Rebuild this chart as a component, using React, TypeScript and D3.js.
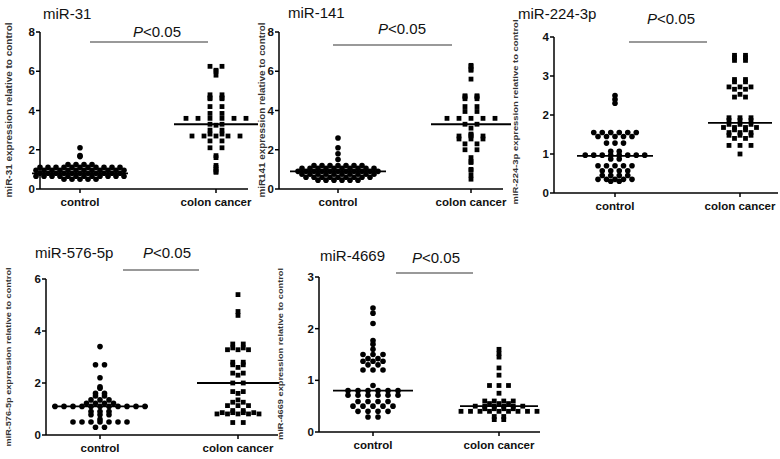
import * as d3 from "d3";

// values (relative expression)
const categories = ["control", "colon cancer"];

const mir31Control = [2.1, 1.7, 1.65, 1.25, 1.25, 1.25, 1.25, 1.1, 1.1, 1.1, 1.1, 1.1, 1.1, 1.1, 1.1, 1.1, 1.1, 1.1, 0.95, 0.95, 0.95, 0.95, 0.95, 0.95, 0.95, 0.95, 0.95, 0.95, 0.95, 0.95, 0.8, 0.8, 0.8, 0.8, 0.8, 0.8, 0.8, 0.8, 0.8, 0.8, 0.8, 0.65, 0.65, 0.65, 0.65, 0.65, 0.65, 0.65, 0.65, 0.65, 0.65, 0.65, 0.65, 0.5, 0.5, 0.5, 0.5, 0.5];
const mir31Cancer = [6.25, 6.25, 6.05, 6.0, 5.8, 4.8, 4.8, 4.65, 4.65, 4.6, 4.6, 4.2, 4.2, 3.85, 3.85, 3.6, 3.6, 3.6, 3.6, 3.6, 3.6, 3.3, 3.3, 3.25, 3.0, 3.0, 2.8, 2.8, 2.7, 2.7, 2.7, 2.7, 2.7, 2.45, 2.45, 2.1, 2.1, 1.7, 1.6, 1.2, 1.1, 1.0, 0.9, 0.85];

const mir141Control = [2.6, 2.1, 1.8, 1.5, 1.2, 1.2, 1.2, 1.2, 1.2, 1.2, 1.2, 1.05, 1.05, 1.05, 1.05, 1.05, 1.05, 1.05, 1.05, 1.05, 1.05, 0.9, 0.9, 0.9, 0.9, 0.9, 0.9, 0.9, 0.9, 0.9, 0.9, 0.9, 0.75, 0.75, 0.75, 0.75, 0.75, 0.75, 0.75, 0.75, 0.75, 0.75, 0.6, 0.6, 0.6, 0.6, 0.6, 0.6, 0.6, 0.6, 0.6, 0.45, 0.45, 0.45, 0.45, 0.45, 0.45];
const mir141Cancer = [6.3, 6.25, 6.1, 6.05, 5.6, 4.75, 4.75, 4.7, 4.7, 4.6, 4.6, 4.2, 4.2, 3.95, 3.95, 3.6, 3.6, 3.6, 3.6, 3.6, 3.3, 3.3, 3.1, 2.8, 2.75, 2.7, 2.7, 2.7, 2.55, 2.55, 2.55, 2.3, 2.3, 2.0, 2.0, 1.6, 1.4, 1.35, 1.0, 0.95, 0.7, 0.5];

const mir224Control = [2.5, 2.4, 2.3, 1.55, 1.55, 1.55, 1.55, 1.55, 1.55, 1.45, 1.45, 1.45, 1.45, 1.45, 1.28, 1.28, 1.28, 1.07, 1.07, 0.97, 0.97, 0.97, 0.97, 0.97, 0.97, 0.97, 0.97, 0.87, 0.87, 0.7, 0.7, 0.7, 0.7, 0.7, 0.57, 0.57, 0.57, 0.57, 0.45, 0.45, 0.45, 0.45, 0.35, 0.35, 0.35, 0.35, 0.35, 0.3, 0.3];
const mir224Cancer = [3.53, 3.53, 3.47, 3.47, 3.4, 3.4, 2.91, 2.91, 2.85, 2.85, 2.72, 2.72, 2.72, 2.66, 2.66, 2.53, 2.46, 2.46, 1.93, 1.93, 1.93, 1.86, 1.86, 1.86, 1.76, 1.76, 1.76, 1.68, 1.68, 1.68, 1.68, 1.62, 1.62, 1.55, 1.55, 1.55, 1.48, 1.48, 1.48, 1.4, 1.4, 1.22, 1.22, 1.22, 1.0];

const mir576Control = [3.4, 2.7, 2.7, 2.2, 1.85, 1.8, 1.6, 1.6, 1.5, 1.5, 1.35, 1.35, 1.35, 1.22, 1.22, 1.22, 1.22, 1.1, 1.1, 1.1, 1.1, 1.1, 1.1, 1.1, 1.1, 1.1, 1.1, 1.1, 0.9, 0.9, 0.9, 0.78, 0.78, 0.78, 0.6, 0.5, 0.5, 0.5, 0.5, 0.5, 0.5, 0.5, 0.3, 0.3];
const mir576Cancer = [5.4, 4.75, 4.6, 3.5, 3.5, 3.35, 3.35, 3.28, 3.28, 3.28, 2.8, 2.8, 2.7, 2.7, 2.6, 2.38, 2.38, 2.3, 2.0, 2.0, 1.67, 1.67, 1.6, 1.35, 1.26, 1.26, 1.13, 1.13, 1.13, 0.94, 0.94, 0.86, 0.86, 0.86, 0.86, 0.81, 0.81, 0.81, 0.81, 0.81, 0.48, 0.48];

const mir4669Control = [2.4, 2.3, 2.1, 1.77, 1.7, 1.6, 1.5, 1.5, 1.5, 1.42, 1.42, 1.37, 1.37, 1.37, 1.3, 1.3, 1.2, 1.2, 1.2, 0.9, 0.8, 0.8, 0.8, 0.8, 0.8, 0.8, 0.71, 0.71, 0.71, 0.71, 0.71, 0.71, 0.59, 0.59, 0.59, 0.59, 0.5, 0.5, 0.5, 0.5, 0.5, 0.4, 0.4, 0.4, 0.4, 0.29, 0.29];
const mir4669Cancer = [1.6, 1.52, 1.45, 1.24, 1.1, 0.9, 0.9, 0.9, 0.75, 0.6, 0.6, 0.6, 0.6, 0.55, 0.55, 0.55, 0.5, 0.5, 0.5, 0.5, 0.5, 0.5, 0.45, 0.45, 0.45, 0.45, 0.4, 0.4, 0.4, 0.4, 0.4, 0.4, 0.4, 0.4, 0.4, 0.3, 0.3, 0.24, 0.24];

// medians as drawn
const mir31Median = [0.8, 3.3];
const mir141Median = [0.9, 3.3];
const mir224Median = [0.95, 1.8];
const mir576Median = [1.1, 2.0];
const mir4669Median = [0.8, 0.5];

const yTicks8 = [0, 2, 4, 6, 8];
const yTicks4 = [0, 1, 2, 3, 4];
const yTicks6 = [0, 2, 4, 6];
const yTicks3 = [0, 1, 2, 3];

const FONT = "'Liberation Sans', Arial, sans-serif";

type Layout = {
  axisX: number;
  axisEnd: number;
  top: number;
  bottom: number;
  cats: [number, number];
  medHalf: [number, number];
  gap: [number, number];
  title: [number, number];
  pText: [number, number];
  pLine: [number, number, number];
  yLab: [number, number, number];
};

// equal values sit side by side in one row, centred on the category
function rows(values: number[], cx: number, gap: number) {
  const groups = d3.groups(values, (v) => v);
  return groups.flatMap(([v, vs]) =>
    vs.map((_, i) => ({ v, x: cx + (i - (vs.length - 1) / 2) * gap }))
  );
}

function Panel({
  title,
  yLabel,
  yLabelSize,
  yMax,
  ticks,
  control,
  cancer,
  medians,
  L,
}: {
  title: string;
  yLabel: string;
  yLabelSize: number;
  yMax: number;
  ticks: number[];
  control: number[];
  cancer: number[];
  medians: number[];
  L: Layout;
}) {
  const y = d3.scaleLinear().domain([0, yMax]).range([L.bottom, L.top]);
  const x = d3.scalePoint<string>().domain(categories).range(L.cats);
  const ctrlPts = rows(control, x(categories[0])!, L.gap[0]);
  const cancPts = rows(cancer, x(categories[1])!, L.gap[1]);

  return (
    <g fontFamily={FONT}>
      <text x={L.title[0]} y={L.title[1]} fontSize={15} fill="#111">
        {title}
      </text>
      <text x={L.pText[0]} y={L.pText[1]} fontSize={15} fill="#111">
        <tspan fontStyle="italic">P</tspan>&lt;0.05
      </text>
      <line x1={L.pLine[0]} x2={L.pLine[1]} y1={L.pLine[2]} y2={L.pLine[2]} stroke="#777" strokeWidth={1.5} />

      <text
        transform={`translate(${L.yLab[0]},${L.yLab[1]}) rotate(-90)`}
        textAnchor="middle"
        fontSize={yLabelSize}
        fontWeight="bold"
        fill="#333"
        textLength={L.yLab[2]}
        lengthAdjust="spacingAndGlyphs"
      >
        {yLabel}
      </text>

      {/* y axis */}
      <line x1={L.axisX} x2={L.axisX} y1={L.top} y2={L.bottom} stroke="#000" strokeWidth={1.5} />
      {ticks.map((t) => (
        <g key={t}>
          <line x1={L.axisX - 4} x2={L.axisX} y1={y(t)} y2={y(t)} stroke="#000" strokeWidth={1.5} />
          <text x={L.axisX - 5} y={y(t) + 4} textAnchor="end" fontSize={11.5} fontWeight="bold" fill="#111">
            {t}
          </text>
        </g>
      ))}

      {/* x axis */}
      <line x1={L.axisX} x2={L.axisEnd} y1={L.bottom} y2={L.bottom} stroke="#000" strokeWidth={1.5} />
      {categories.map((c) => (
        <g key={c}>
          <line x1={x(c)} x2={x(c)} y1={L.bottom} y2={L.bottom + 4} stroke="#000" strokeWidth={1.5} />
          <text x={x(c)} y={L.bottom + 17} textAnchor="middle" fontSize={11.5} fontWeight="bold" fill="#111">
            {c}
          </text>
        </g>
      ))}

      {ctrlPts.map((p, i) => (
        <circle key={"c" + i} cx={p.x} cy={y(p.v)} r={2.8} fill="#000" />
      ))}
      {cancPts.map((p, i) => (
        <rect key={"s" + i} x={p.x - 2.4} y={y(p.v) - 2.4} width={4.8} height={4.8} fill="#000" />
      ))}

      {categories.map((c, i) => (
        <line
          key={"m" + c}
          x1={x(c)! - L.medHalf[i]}
          x2={x(c)! + L.medHalf[i]}
          y1={y(medians[i])}
          y2={y(medians[i])}
          stroke="#000"
          strokeWidth={1.8}
        />
      ))}
    </g>
  );
}

const L31: Layout = {
  axisX: 40, axisEnd: 248, top: 32, bottom: 189, cats: [80, 216], medHalf: [48, 42], gap: [8, 12],
  title: [43, 19], pText: [133, 37], pLine: [90, 208, 42], yLab: [12, 110, 175],
};
const L141: Layout = {
  axisX: 279, axisEnd: 503, top: 32, bottom: 189, cats: [338, 471], medHalf: [48, 40], gap: [8, 12],
  title: [288, 18], pText: [378, 34], pLine: [333, 452, 45], yLab: [265, 110, 175],
};
const L224: Layout = {
  axisX: 554, axisEnd: 778, top: 37, bottom: 193, cats: [615, 740], medHalf: [38, 32], gap: [8.5, 11],
  title: [518, 19], pText: [647, 24], pLine: [629, 707, 42], yLab: [518, 112, 185],
};
const L576: Layout = {
  axisX: 46, axisEnd: 278, top: 279, bottom: 435, cats: [100, 238], medHalf: [48, 41], gap: [9, 10.5],
  title: [35, 258], pText: [143, 258], pLine: [123, 199, 270], yLab: [11, 357, 179],
};
const L4669: Layout = {
  axisX: 319, axisEnd: 540, top: 277, bottom: 432, cats: [373, 499], medHalf: [40, 39], gap: [10, 9.5],
  title: [320, 261], pText: [412, 263], pLine: [396, 473, 273], yLab: [283, 354, 172],
};

export default function App() {
  return (
    <svg
      width={780}
      height={459}
      viewBox="0 0 780 459"
      style={{ position: "absolute", left: 0, top: 0, background: "#fff" }}
    >
      <rect width={780} height={459} fill="#fff" />
      <Panel title="miR-31" yLabel="miR-31 expression relative to control" yLabelSize={9} yMax={8} ticks={yTicks8}
        control={mir31Control} cancer={mir31Cancer} medians={mir31Median} L={L31} />
      <Panel title="miR-141" yLabel="miR141 expression relative to control" yLabelSize={9} yMax={8} ticks={yTicks8}
        control={mir141Control} cancer={mir141Cancer} medians={mir141Median} L={L141} />
      <Panel title="miR-224-3p" yLabel="miR-224-3p expression relative to control" yLabelSize={8} yMax={4} ticks={yTicks4}
        control={mir224Control} cancer={mir224Cancer} medians={mir224Median} L={L224} />
      <Panel title="miR-576-5p" yLabel="miR-576-5p expression relative to control" yLabelSize={8} yMax={6} ticks={yTicks6}
        control={mir576Control} cancer={mir576Cancer} medians={mir576Median} L={L576} />
      <Panel title="miR-4669" yLabel="miR-4669 expression relative to control" yLabelSize={8} yMax={3} ticks={yTicks3}
        control={mir4669Control} cancer={mir4669Cancer} medians={mir4669Median} L={L4669} />
    </svg>
  );
}
